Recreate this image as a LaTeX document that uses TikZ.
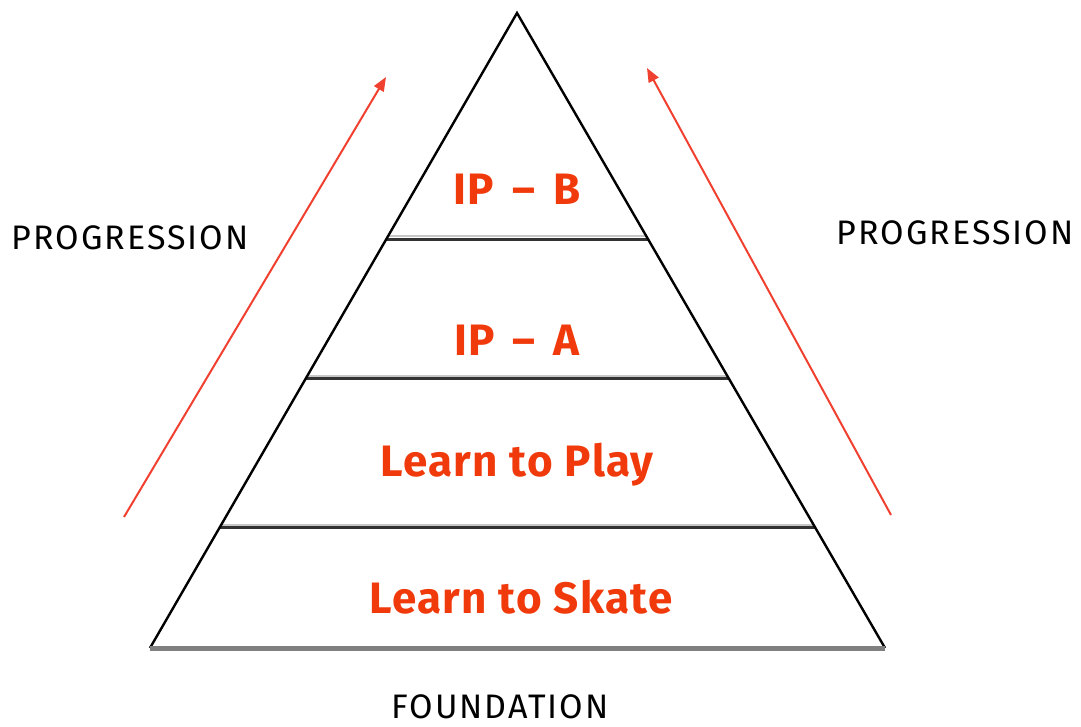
\documentclass[tikz,border=0pt]{standalone}
\usepackage{fontspec}
\setmainfont{Fira Sans}
\usetikzlibrary{arrows.meta,calc}
\definecolor{labelred}{HTML}{F03A0C}
\definecolor{arrowred}{HTML}{F04030}
\definecolor{baseGray}{HTML}{808080}
\begin{document}
\begin{tikzpicture}[x=1pt,y=-1pt,
  tier/.style={font=\fontsize{44}{44}\selectfont\bfseries\addfontfeature{LetterSpace=3}, text=labelred, inner sep=0pt},
  caption/.style={font=\fontsize{34}{34}\selectfont\addfontfeature{LetterSpace=6}, text=black, inner sep=0pt},
  side/.style={draw=black, line width=2.4pt},
  divider/.style={draw=black!80, line width=3pt},
  shade/.style={draw=black!22, line width=2pt},
  progress/.style={draw=arrowred, line width=2pt, -{Triangle[length=14pt,width=11pt]}}]
  \useasboundingbox (0,0) rectangle (1081,726);

  % pyramid corners
  \coordinate (apex) at (517,13);
  \coordinate (bl) at (150,648);
  \coordinate (br) at (885,648);

  % tier boundaries along the sides
  \coordinate (l1) at ($(apex)!0.356!(bl)$);
  \coordinate (r1) at ($(apex)!0.356!(br)$);
  \coordinate (l2) at ($(apex)!0.576!(bl)$);
  \coordinate (r2) at ($(apex)!0.576!(br)$);
  \coordinate (l3) at ($(apex)!0.811!(bl)$);
  \coordinate (r3) at ($(apex)!0.811!(br)$);

  % light edge above each divider
  \draw[shade] ($(l1)+(2,-3)$) -- ($(r1)+(-2,-3)$);
  \draw[shade] ($(l2)+(2,-3)$) -- ($(r2)+(-2,-3)$);
  \draw[shade] ($(l3)+(2,-3)$) -- ($(r3)+(-2,-3)$);
  \draw[divider] (l1) -- (r1);
  \draw[divider] (l2) -- (r2);
  \draw[divider] (l3) -- (r3);

  % sides and base
  \draw[side, line join=miter] (bl) -- (apex) -- (br);
  \draw[draw=baseGray, line width=5pt] (bl) -- (br);

  % tier labels
  \node[tier] (ipb) at (517,189) {IP\hspace{18pt}--\hspace{18pt}B};
  \node[tier] (ipa) at (517,340) {IP\hspace{18pt}--\hspace{18pt}A};
  \node[tier] (play) at (517,465) {Learn to Play};
  \node[tier] (skate) at (521,597) {Learn to Skate};

  % captions
  \node[caption] (progl) at (130,238) {PROGRESSION};
  \node[caption] (progr) at (955,233) {PROGRESSION};
  \node[caption] (found) at (500,707) {FOUNDATION};

  % progression arrows
  \coordinate (al0) at (124,517);
  \coordinate (al1) at (386,77);
  \coordinate (ar0) at (891,515);
  \coordinate (ar1) at (647,68);
  \draw[progress] (al0) -- (al1);
  \draw[progress] (ar0) -- (ar1);
\end{tikzpicture}
\end{document}
